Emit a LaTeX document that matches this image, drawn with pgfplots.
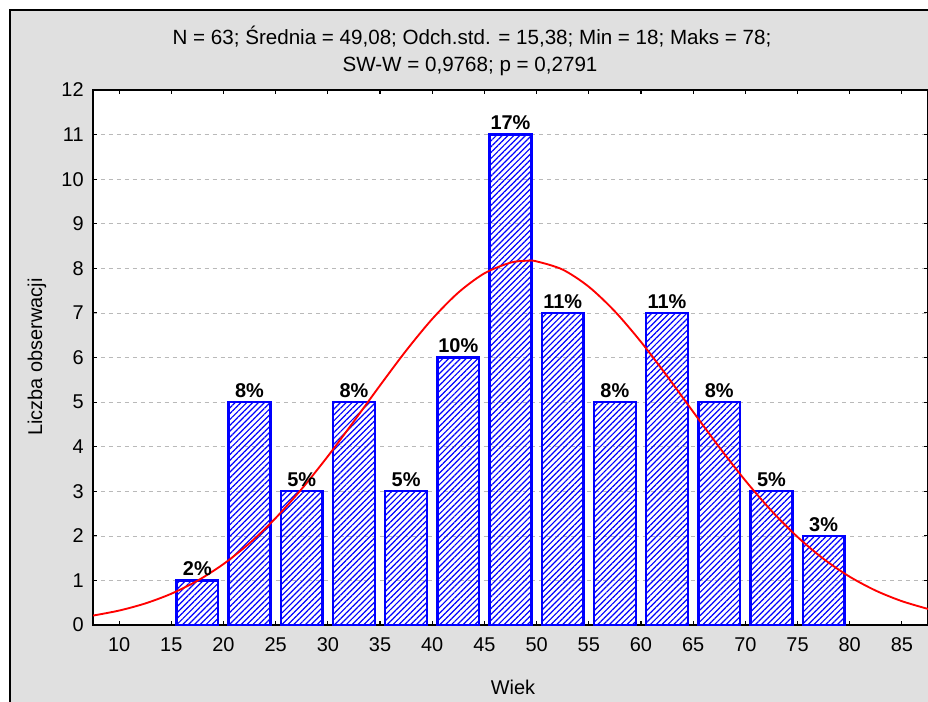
\documentclass[border=0pt]{standalone}
\usepackage{fontspec}
\setmainfont{Liberation Sans}
\usepackage{pgfplots}
\pgfplotsset{compat=1.18}
\usepackage{pgfplotstable}
\usetikzlibrary{patterns.meta}
\definecolor{bg}{RGB}{224,224,224}

\pgfplotstableread{
x y lab
17.5 1 2
22.5 5 8
27.5 3 5
32.5 5 8
37.5 3 5
42.5 6 10
47.5 11 17
52.5 7 11
57.5 5 8
62.5 7 11
67.5 5 8
72.5 3 5
77.5 2 3
}\bars

\begin{document}
\begin{tikzpicture}
\useasboundingbox (0,0) rectangle (696bp,-526.5bp);
\fill[white] (0,0) rectangle (696bp,-526.5bp);
\filldraw[fill=bg, draw=black, line width=1.5bp] (7.5bp,-7.5bp) rectangle (710bp,-540bp);
\begin{axis}[
  at={(69.75bp,-468.75bp)}, anchor=south west, scale only axis,
  width=626.25bp, height=401.25bp,
  xmin=7.5, xmax=87.5, ymin=0, ymax=12,
  xtick={10,15,...,85}, ytick={0,1,...,12},
  axis background/.style={fill=white},
  axis line style={line width=1.5bp},
  tick style={black, line width=0.8bp},
  major tick length=3bp,
  ymajorgrids, grid style={dashed, gray!55, line width=0.4bp},
  tick label style={font=\fontsize{15}{18}\selectfont},
  /pgf/number format/assume math mode=true,
  xticklabel style={yshift=-6bp},
  yticklabel style={xshift=-3.5bp},
]
\addplot[ybar, bar width=4, draw=blue, line width=1.8bp,
  /tikz/pattern={Lines[angle=45,distance=3.1bp,line width=0.9bp]}, /tikz/pattern color=blue,
  nodes near coords={\pgfplotspointmeta\%}, point meta=explicit symbolic,
  every node near coord/.style={font=\bfseries\fontsize{15}{18}\selectfont, black, anchor=south, inner sep=2.5bp}]
  table[x=x,y=y,meta=lab] {\bars};
\addplot[red, line width=1.4bp, smooth] coordinates {
(7.5,0.2115) (10,0.3238) (12.5,0.4831) (15,0.7017) (17.5,0.9924) (20,1.3675)
(22.5,1.8355) (25,2.3987) (27.5,3.0531) (30,3.7850) (32.5,4.5699) (35,5.3738)
(37.5,6.1542) (40,6.8640) (42.5,7.4562) (45,7.8883) (47.5,8.1278) (49.08,8.1708)
(50,8.1562) (52.5,7.9713) (55,7.5874) (57.5,7.0337) (60,6.3508) (62.5,5.5838)
(65,4.7818) (67.5,3.9884) (70,3.2398) (72.5,2.5628) (75,1.9747) (77.5,1.4817)
(80,1.0828) (82.5,0.7707) (85,0.5344) (87.5,0.3608)};
\end{axis}
\node[font=\fontsize{15.5}{18}\selectfont] at (354bp,-27.75bp) {N = 63; Średnia = 49,08; Odch.std. = 15,38; Min = 18; Maks = 78;};
\node[font=\fontsize{15.5}{18}\selectfont] at (352.5bp,-49.5bp) {SW-W = 0,9768; p = 0,2791};
\node[font=\fontsize{15}{18}\selectfont, rotate=90] at (27.75bp,-267.75bp) {Liczba obserwacji};
\node[font=\fontsize{15}{18}\selectfont] at (384.75bp,-515.25bp) {Wiek};
\end{tikzpicture}
\end{document}
